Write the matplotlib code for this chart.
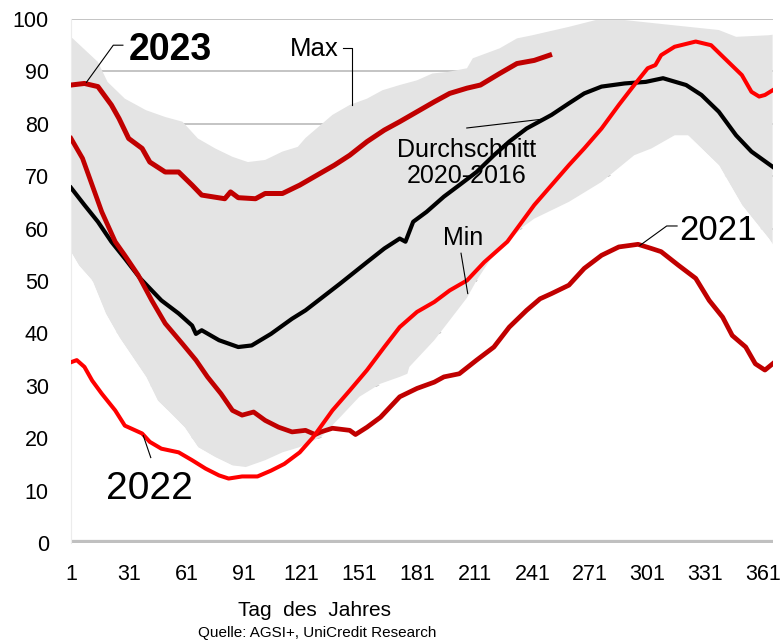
import matplotlib
matplotlib.use("Agg")
import matplotlib.pyplot as plt

plt.rcParams['font.family'] = ['Liberation Sans', 'DejaVu Sans']

# Band: max / min of 2016-2020 (gas storage fill level, %)
max_days = [1, 15, 20, 29, 40, 50, 59, 67, 76, 85, 93, 102, 111, 119, 123,
            137, 146, 155, 163, 172, 181, 189, 197, 207, 210, 224, 233, 241,
            260, 274, 289, 312, 338, 347, 364, 366]
max_vals = [96.6, 91.8, 88.0, 84.8, 82.6, 81.3, 80.4, 77.2, 75.3, 73.7, 72.7,
            73.1, 74.7, 75.6, 77.3, 81.7, 83.6, 84.8, 86.4, 87.4, 88.3, 89.6,
            89.9, 90.6, 92.5, 94.4, 96.3, 96.9, 98.5, 99.8, 99.8, 98.9, 97.9,
            96.6, 96.9, 97.0]
min_days = [1, 5, 12, 19, 26, 33, 40, 46, 53, 60, 67, 76, 85, 92, 102, 111,
            120, 131, 141, 151, 162, 172, 176, 177, 190, 198, 207, 212, 219,
            236, 242, 260, 277, 294, 303, 315, 322, 338, 350, 364, 366]
min_vals = [55.5, 53.0, 50.1, 43.8, 39.3, 35.5, 31.7, 27.2, 24.7, 22.1, 18.3,
            16.4, 14.8, 14.5, 15.8, 17.3, 18.3, 20.2, 24.0, 27.9, 30.4, 31.7,
            32.3, 33.6, 38.7, 42.5, 46.8, 50.1, 54.0, 60.3, 61.9, 65.1, 68.9,
            74.0, 75.3, 77.8, 77.8, 72.1, 64.5, 58.1, 57.0]

avg_days = [1, 8, 15, 22, 29, 37, 48, 57, 64, 66, 69, 78, 88, 95, 105, 116,
            123, 141, 155, 164, 172, 175, 179, 186, 195, 203, 212, 221, 229,
            238, 251, 260, 268, 277, 289, 300, 309, 321, 329, 338, 347, 355,
            366]
avg_vals = [67.8, 64.5, 61.3, 57.5, 54.3, 50.5, 46.3, 43.8, 41.5, 39.9, 40.6,
            38.7, 37.4, 37.7, 39.9, 42.8, 44.4, 49.5, 53.6, 56.2, 58.1, 57.5,
            61.3, 63.2, 66.1, 68.3, 70.8, 74.0, 76.6, 79.1, 81.7, 83.9, 85.8,
            87.1, 87.7, 88.0, 88.7, 87.4, 85.5, 82.3, 77.8, 74.7, 71.8]

y2023_days = [1, 8, 15, 22, 26, 31, 38, 42, 50, 57, 64, 69, 81, 84, 88, 97,
              102, 111, 120, 129, 138, 146, 155, 164, 172, 181, 190, 198, 207,
              214, 224, 233, 242, 250]
y2023_vals = [87.4, 87.7, 87.1, 83.6, 81.0, 77.2, 75.3, 72.7, 70.8, 70.8, 68.3,
              66.4, 65.7, 67.0, 65.9, 65.7, 66.7, 66.7, 68.3, 70.2, 72.1, 74.0,
              76.6, 78.8, 80.4, 82.3, 84.2, 85.8, 86.8, 87.4, 89.6, 91.5, 92.1,
              93.1]

y2022_days = [1, 4, 8, 12, 17, 24, 29, 38, 42, 48, 57, 64, 71, 78, 83, 90, 98,
              105, 112, 120, 127, 137, 146, 155, 164, 172, 181, 190, 198, 207,
              216, 228, 242, 251, 260, 268, 277, 286, 294, 301, 305, 308, 315,
              326, 334, 341, 350, 355, 359, 362, 366]
y2022_vals = [34.5, 34.9, 33.6, 31.0, 28.5, 25.3, 22.4, 20.9, 19.3, 18.0, 17.3,
              15.8, 14.2, 12.9, 12.3, 12.7, 12.7, 13.8, 15.1, 17.3, 20.2, 25.3,
              29.1, 33.0, 37.4, 41.2, 44.1, 46.0, 48.2, 50.1, 53.6, 57.5, 64.5,
              68.3, 72.1, 75.3, 79.1, 83.6, 87.4, 90.6, 91.2, 93.1, 94.7, 95.7,
              95.0, 92.5, 89.3, 86.1, 85.2, 85.5, 86.4]

y2021_days = [1, 7, 12, 17, 24, 29, 36, 43, 50, 59, 66, 72, 79, 85, 90, 96,
              102, 109, 116, 123, 128, 131, 137, 146, 149, 155, 162, 172, 181,
              190, 195, 203, 212, 221, 229, 238, 245, 251, 260, 268, 277, 286,
              296, 303, 308, 317, 326, 333, 340, 345, 352, 357, 362, 366]
y2021_vals = [77.2, 73.4, 68.3, 63.2, 57.5, 54.9, 51.1, 46.3, 41.9, 38.0, 34.9,
              31.7, 28.5, 25.3, 24.4, 25.0, 23.4, 22.1, 21.2, 21.5, 20.7, 21.2,
              21.9, 21.5, 20.7, 22.1, 24.0, 27.9, 29.5, 30.7, 31.7, 32.3, 34.9,
              37.4, 41.2, 44.4, 46.6, 47.6, 49.2, 52.4, 54.9, 56.5, 57.0, 56.2,
              55.6, 53.0, 50.5, 46.3, 43.1, 39.6, 37.4, 34.2, 33.0, 34.2]

x_ticks = [1, 31, 61, 91, 121, 151, 181, 211, 241, 271, 301, 331, 361]
y_ticks = [0, 10, 20, 30, 40, 50, 60, 70, 80, 90, 100]

DARK_RED = '#c00000'
RED = '#ff0000'
BAND = '#e4e4e4'

fig = plt.figure(figsize=(7.84, 6.41), dpi=100)
ax = fig.add_axes([71 / 784, 1 - 543 / 641, 702 / 784, 524 / 641])

# gridlines sit below the band / white min area
for v in y_ticks[1:]:
    ax.axhline(v, color='#b4b4b4', lw=1.1, zorder=0.5)

band_x = max_days + min_days[::-1]
band_y = max_vals + min_vals[::-1]
ax.fill(band_x, band_y, color=BAND, lw=0, zorder=1)
ax.fill_between(min_days, 0, min_vals, color='white', lw=0, zorder=1.1)

ax.axhline(0, color='#c0c0c0', lw=4.5, zorder=2)

ax.plot(avg_days, avg_vals, color='black', lw=3.0, zorder=3,
        solid_joinstyle='round')
ax.plot(y2021_days, y2021_vals, color=DARK_RED, lw=3.4, zorder=3,
        solid_joinstyle='round')
ax.plot(y2022_days, y2022_vals, color=RED, lw=2.9, zorder=4,
        solid_joinstyle='round')
ax.plot(y2023_days, y2023_vals, color=DARK_RED, lw=3.6, zorder=5,
        solid_joinstyle='round')

# annotations
lk = dict(color='black', lw=0.8, zorder=6)
ax.plot([9, 23, 28], [87.9, 95.0, 95.0], **lk)
ax.text(31.2, 94.0, '2023', fontsize=27, fontweight='bold', ha='left',
        va='center', zorder=6)

ax.plot([142.5, 147.2, 147.2], [94.5, 94.5, 83.6], **lk)
ax.text(140.2, 94.2, 'Max', fontsize=18.5, ha='right', va='center', zorder=6)

ax.plot([206.9, 246.6], [79.2, 80.9], **lk)
ax.text(207, 72.5, 'Durchschnitt\n2020-2016', fontsize=18, ha='center',
        va='center', linespacing=1.1, zorder=6)

ax.plot([203.9, 207.4], [55.3, 47.6], **lk)
ax.text(205, 58.3, 'Min', fontsize=18, ha='center', va='center', zorder=6)

ax.plot([297, 310.9, 316.3], [56.8, 60.5, 60.5], **lk)
ax.text(317.5, 59.6, '2021', fontsize=25, ha='left', va='center', zorder=6)

ax.plot([38.6, 42.5], [20.5, 16.3], **lk)
ax.text(41.8, 10.3, '2022', fontsize=28, ha='center', va='center', zorder=6)

ax.set_xlim(1, 366.2)
ax.set_ylim(0, 100)
ax.set_xticks(x_ticks)
ax.set_yticks(y_ticks)
ax.tick_params(axis='both', length=0, labelsize=15.5)
ax.tick_params(axis='x', pad=15)
ax.tick_params(axis='y', pad=16)
for s in ['top', 'right', 'bottom']:
    ax.spines[s].set_visible(False)
ax.spines['left'].set_color('#ececec')
ax.spines['left'].set_linewidth(0.8)

fig.text(315 / 784, 1 - 610 / 641, 'Tag  des  Jahres', fontsize=15,
         ha='center', va='center')
fig.text(317 / 784, 1 - 633 / 641, 'Quelle: AGSI+, UniCredit Research',
         fontsize=11, ha='center', va='center')

fig.savefig('out.png', dpi=100)
